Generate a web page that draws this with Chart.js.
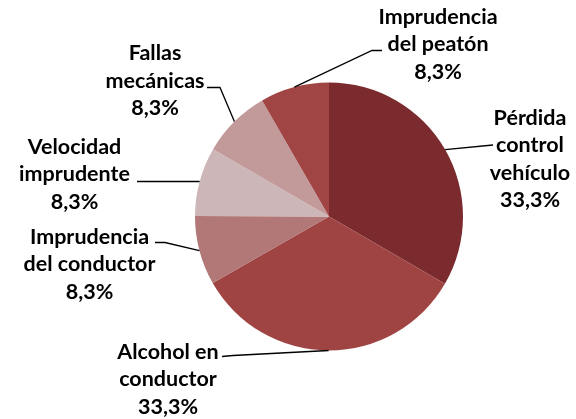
<!DOCTYPE html>
<html>
<head>
<meta charset="utf-8">
<script src="https://cdn.jsdelivr.net/npm/chart.js@4/dist/chart.umd.min.js"></script>
<style>
  html, body { margin: 0; padding: 0; background: #fff; }
  #wrap { width: 576px; height: 419px; }
</style>
</head>
<body>
<div id="wrap"><canvas id="pie" width="576" height="419"></canvas></div>
<script>
// categories, one entry per slice, split in the lines shown next to the pie
const categories = [
  ['Pérdida', 'control', 'vehículo'],
  ['Alcohol en', 'conductor'],
  ['Imprudencia', 'del conductor'],
  ['Velocidad', 'imprudente'],
  ['Fallas', 'mecánicas'],
  ['Imprudencia', 'del peatón']
];
const percentages = [33.3, 33.3, 8.3, 8.3, 8.3, 8.3];
const sliceColors = ['#7B2A2E', '#9F4443', '#B17877', '#CDB6B7', '#C29A9A', '#A04444'];

// where each label sits (centre of first line) and where its leader line stops
const labelSpots = [
  { x: 530, y: 118, end: [493, 145] },
  { x: 168, y: 352, end: [222, 356.5], elbow: [233, 355.5] },
  { x: 89.5, y: 237, end: [155, 242.5], elbow: [165, 242.5] },
  { x: 74.5, y: 147, end: [137, 181.5] },
  { x: 155, y: 53.5, end: [207, 87.5], elbow: [220, 87.5] },
  { x: 438, y: 17, end: [382, 50.5], elbow: [372, 50.5] }
];
const lineH = 27.5;
const labelFont = 'bold 21.5px Lato, "Liberation Sans", sans-serif';

const fmtPct = v => v.toFixed(1).replace('.', ',') + '%';

const outsideLabels = {
  id: 'outsideLabels',
  afterDatasetsDraw(chart) {
    const ctx = chart.ctx;
    const meta = chart.getDatasetMeta(0);
    ctx.save();
    meta.data.forEach((arc, i) => {
      const p = arc.getProps(['x', 'y', 'startAngle', 'endAngle', 'outerRadius'], true);
      const mid = (p.startAngle + p.endAngle) / 2;
      const ax = p.x + Math.cos(mid) * p.outerRadius;
      const ay = p.y + Math.sin(mid) * p.outerRadius;
      const spot = labelSpots[i];

      // leader line
      ctx.strokeStyle = '#000';
      ctx.lineWidth = 1.3;
      ctx.beginPath();
      ctx.moveTo(ax, ay);
      if (spot.elbow) ctx.lineTo(spot.elbow[0], spot.elbow[1]);
      ctx.lineTo(spot.end[0], spot.end[1]);
      ctx.stroke();

      // text
      const lines = chart.data.labels[i].concat([fmtPct(chart.data.datasets[0].data[i])]);
      ctx.fillStyle = '#000';
      ctx.font = labelFont;
      ctx.textAlign = 'center';
      ctx.textBaseline = 'middle';
      lines.forEach((t, k) => ctx.fillText(t, spot.x, spot.y + k * lineH));
    });
    ctx.restore();
  }
};

new Chart(document.getElementById('pie'), {
  type: 'pie',
  data: {
    labels: categories,
    datasets: [{
      data: percentages,
      backgroundColor: sliceColors,
      borderWidth: 0,
      hoverOffset: 0
    }]
  },
  options: {
    responsive: false,
    animation: false,
    rotation: 0,
    layout: { padding: { left: 195, right: 113, top: 82, bottom: 68 } },
    plugins: {
      legend: { display: false },
      tooltip: { enabled: false }
    }
  },
  plugins: [outsideLabels]
});
</script>
</body>
</html>
